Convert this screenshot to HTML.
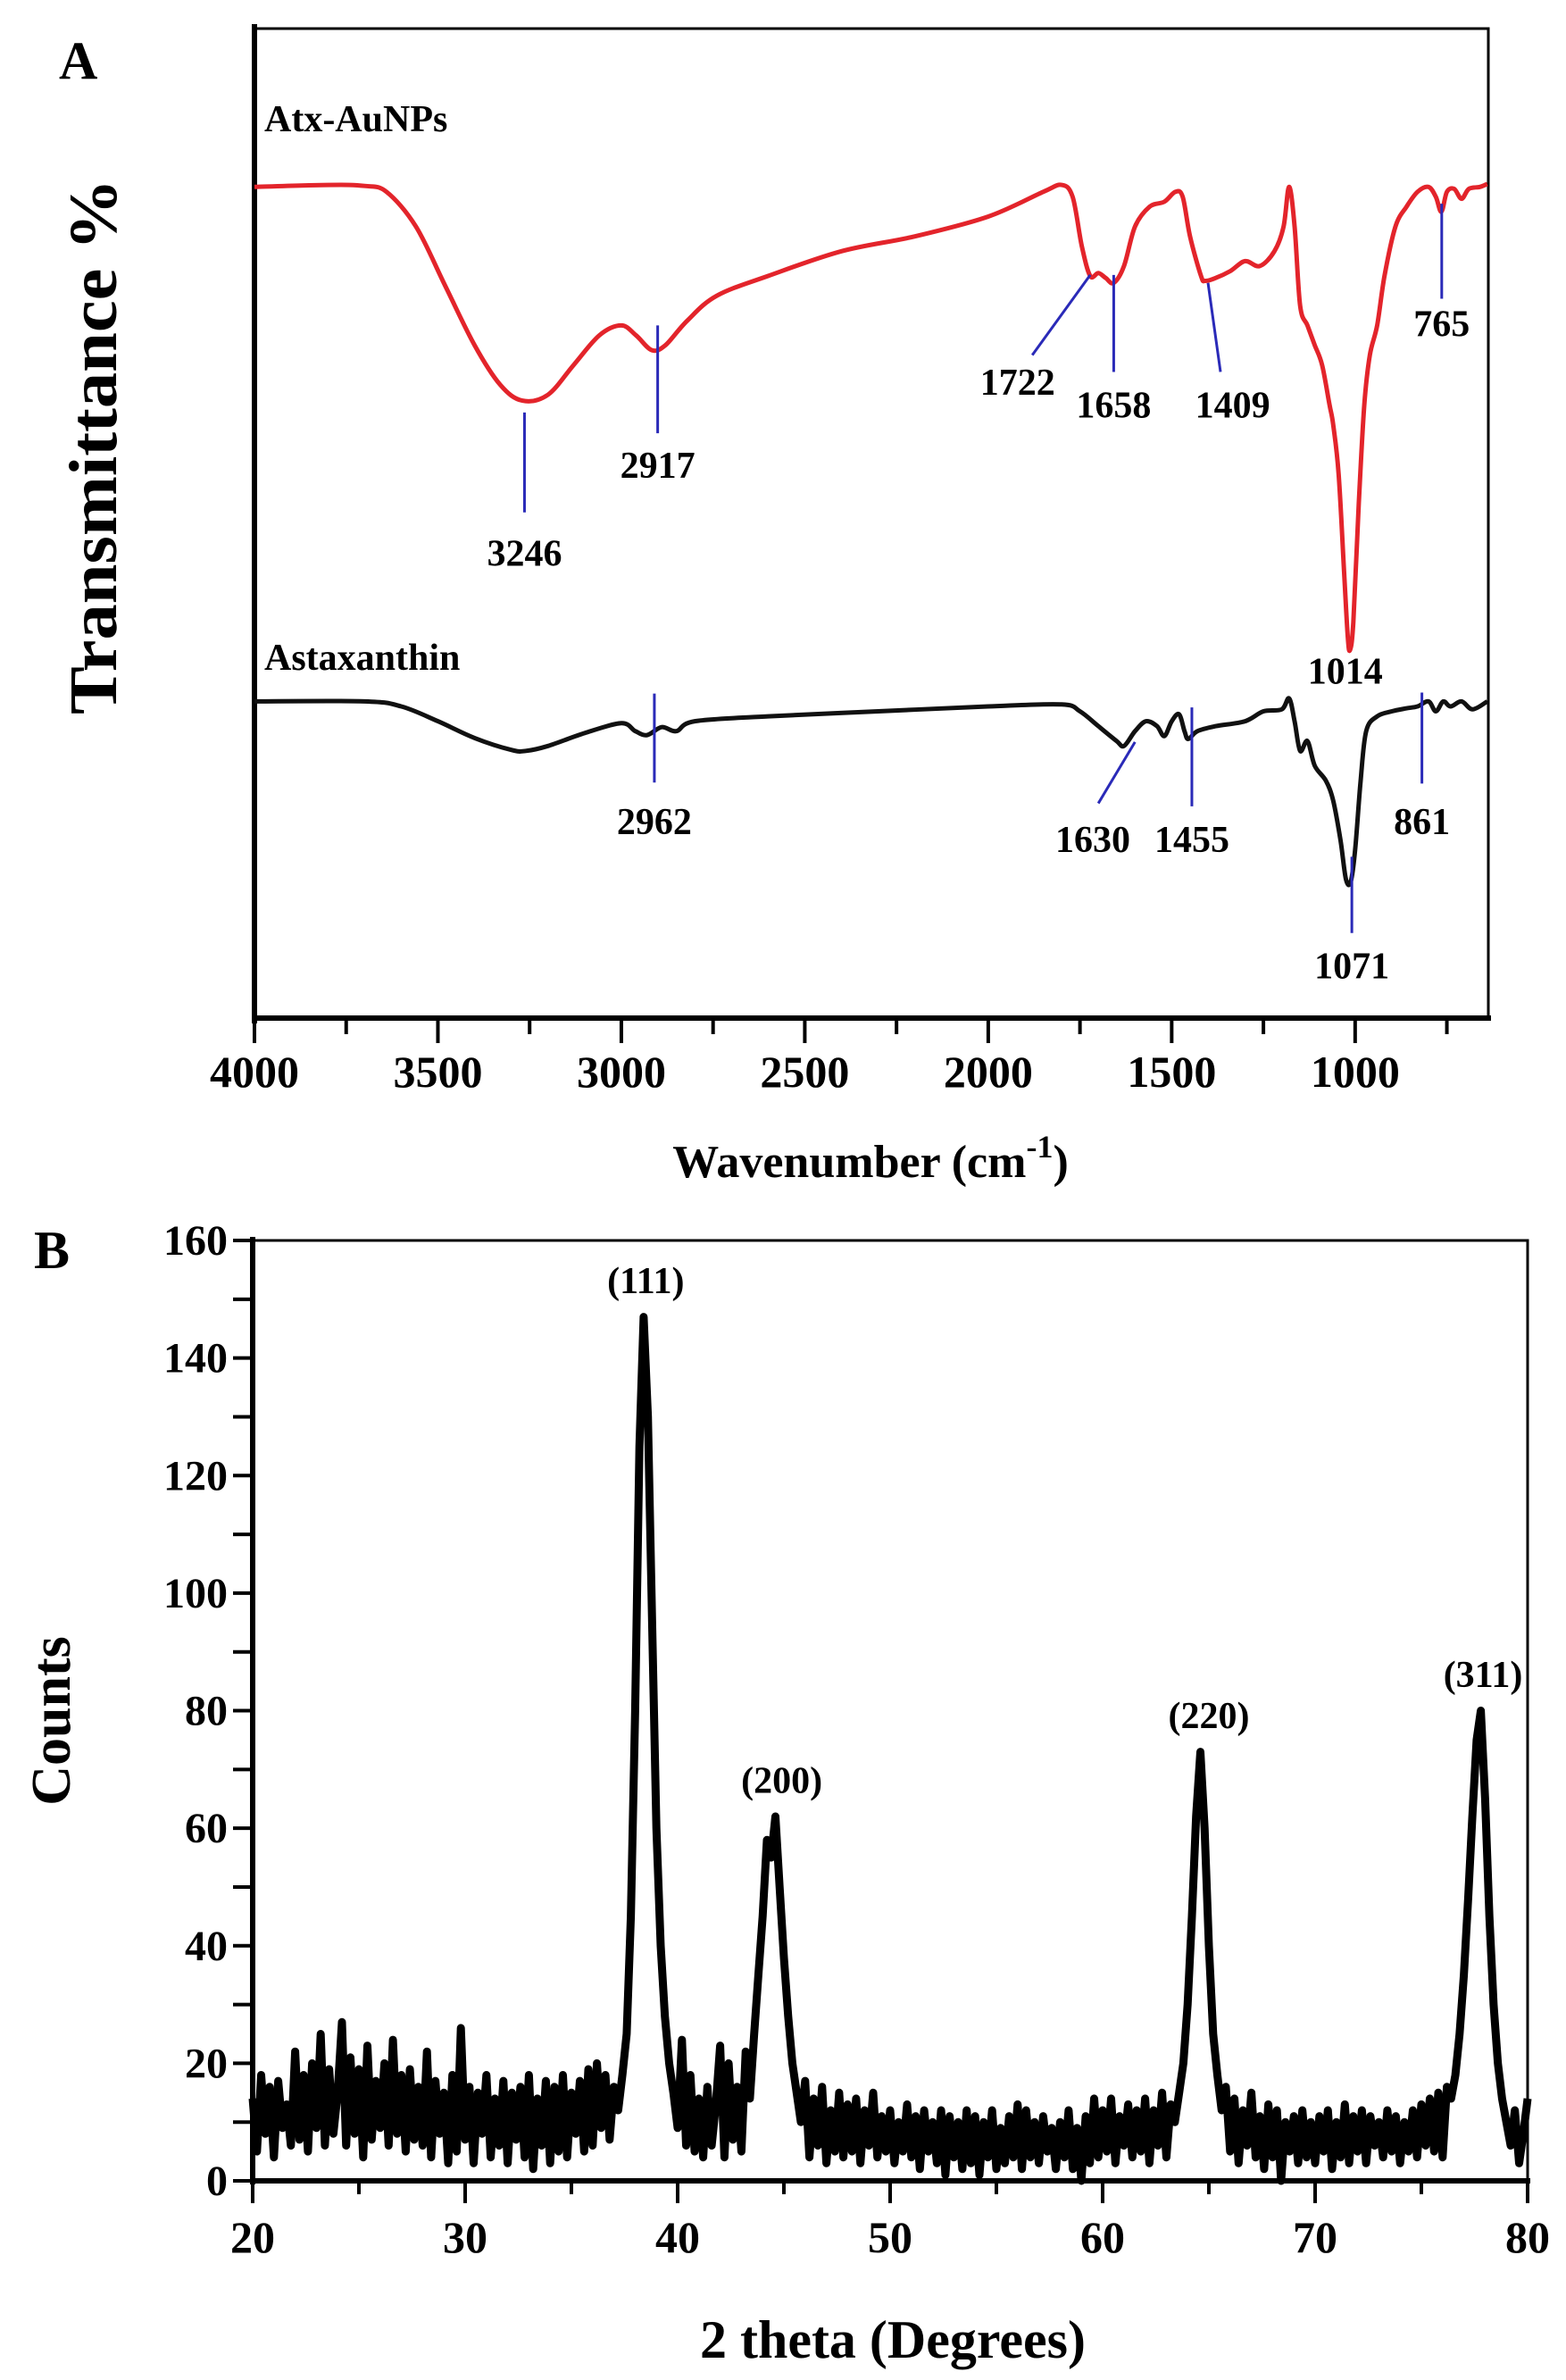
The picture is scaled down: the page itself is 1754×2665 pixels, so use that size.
<!DOCTYPE html>
<html><head><meta charset="utf-8"><style>
html,body{margin:0;padding:0;background:#fff;}
svg{display:block;font-family:"Liberation Serif",serif;font-weight:bold;}
</style></head><body>
<svg id="fig" width="1754" height="2665" viewBox="0 0 1754 2665" xmlns="http://www.w3.org/2000/svg">
<rect width="1754" height="2665" fill="#fff"/>
<g id="panelA"></g>
<g id="panelB"></g>
</svg>
<script>
// ---- Panel A data (FTIR) ----
const ftirXTicks = [4000,3500,3000,2500,2000,1500,1000];
const atxWn  = [4000,3800,3700,3640,3560,3480,3400,3330,3270,3200,3130,3060,3000,2960,2917,2880,2820,2740,2600,2400,2200,2000,1850,1800,1770,1745,1722,1700,1680,1658,1630,1600,1560,1520,1490,1470,1450,1420,1409,1380,1340,1300,1260,1220,1195,1180,1165,1150,1130,1110,1090,1070,1060,1045,1030,1020,1014,1005,990,975,960,940,920,890,860,830,800,780,765,750,730,710,690,660,640];
const atxT   = [84,84.2,84.1,83.5,80,74,68,64,62.4,63,66,69,70,69,67.5,68,70.5,73,75,77.5,79,81,83.5,84.2,83,78,75,75.3,74.8,74.3,76,80,82,82.5,83.5,83,79,75,74.5,74.8,75.5,76.5,76,77.5,80,84,80,72,70,68,66,62,60,55,45,38.5,37.2,40,52,62,67,70,75,80,82,83.5,84,83,81.5,83.5,83.8,82.8,83.8,84,84.3];
const astWn  = [4000,3700,3600,3500,3400,3300,3260,3200,3100,3000,2962,2930,2890,2850,2800,2600,2300,2000,1800,1750,1700,1650,1630,1600,1570,1540,1520,1500,1480,1465,1455,1430,1380,1300,1250,1200,1180,1165,1150,1130,1110,1080,1060,1040,1025,1012,1000,985,970,940,900,861,830,800,780,760,740,710,680,640];
const astT   = [32,32,31.5,30,28.3,27.1,27,27.5,28.8,29.8,29,28.6,29.4,29,30,30.5,31,31.5,31.7,31,29.5,28,27.5,29,30,29.5,28.5,30,30.7,29,28.2,29,29.5,30,31,31.2,32.3,30,27,28,25.5,24,22,18,14,13.8,17,24,29,30.5,31,31.3,31.5,32,31,32,31.5,32,31.2,32,32.2];
const annLabels = ["3246","2917","1722","1658","1409","765","1014","2962","1630","1455","1071","861"];
const annX1 = [3264,2901,1722,1658,1401,764,1014,2910,1600,1445,1009,818];
const annY1 = [61.2,70.0,75.1,75.1,74.3,82.3,null,32.8,27.9,31.4,16.3,32.9];
const annX2 = [3264,2901,1880,1658,1367,764,1014,2910,1700,1445,1009,818];
const annY2 = [51.1,59.1,67.0,65.3,65.3,72.7,null,23.8,21.7,21.4,8.6,23.7];
const annLX = [3264,2901,1920,1658,1334,764,1027,2910,1715,1445,1009,818];
const annLY = [45.7,54.6,63.0,60.7,60.7,68.9,33.8,18.6,16.8,16.8,4.0,18.6];

// ---- Panel B data (XRD) ----
const xrdStart = 20, xrdStep = 0.2;
const xrdCounts = [
14,5,18,8,16,4,17,9,13,6,
22,7,18,5,20,9,25,6,19,8,
15,27,6,21,8,19,4,23,7,17,
9,20,6,24,8,18,5,19,7,16,
6,22,4,17,8,15,3,18,5,26,
7,16,3,15,8,18,4,14,6,17,
3,15,7,16,4,18,2,14,6,17,
3,16,5,18,4,15,8,17,5,19,
6,20,9,18,7,16,12,18,25,45,
80,125,147,130,95,60,40,28,20,15,
9,24,6,18,5,14,4,16,6,13,
23,4,20,7,16,5,22,14,25,35,
45,58,55,62,50,38,28,20,15,10,
17,4,14,6,16,3,12,5,15,4,
13,5,14,3,12,6,15,4,11,5,
12,3,10,5,13,4,11,2,12,5,
10,3,12,1,11,4,10,2,12,3,
11,1,10,4,12,2,9,3,11,4,
13,2,12,4,10,3,11,5,9,2,
10,4,12,2,9,0,11,3,14,4,
12,5,14,3,11,6,13,4,12,5,
14,3,12,6,15,4,13,10,15,20,
30,45,62,73,60,40,25,18,12,16,
5,14,3,12,6,15,4,11,2,13,
4,12,0,10,5,11,3,12,4,10,
3,11,5,12,2,10,4,13,3,11,
5,12,3,11,6,10,4,12,5,11,
3,10,5,12,4,13,6,14,5,15,
4,16,14,18,25,35,48,62,75,80,
65,45,30,20,14,10,6,12,3,8,
14];
const xrdXTicks = [20,30,40,50,60,70,80];
const xrdYTicks = [0,20,40,60,80,100,120,140,160];
const peakLabels = ["(111)","(200)","(220)","(311)"];
const peakTheta  = [38.5,44.9,65.0,77.9];
const peakCount  = [151,66,77,84];

const NS="http://www.w3.org/2000/svg";
function mk(parent,tag,attrs,text){const e=document.createElementNS(NS,tag);for(const k in attrs)e.setAttribute(k,attrs[k]);if(text!==undefined)e.textContent=text;parent.appendChild(e);return e;}
function pathOf(xs,ys,fx,fy){return xs.map((x,i)=>(i?'L':'M')+fx(x).toFixed(1)+','+fy(ys[i]).toFixed(1)).join('');}
function smoothPath(xs,ys,fx,fy){
  const p=xs.map((x,i)=>[fx(x),fy(ys[i])]);
  let d='M'+p[0][0].toFixed(1)+','+p[0][1].toFixed(1);
  for(let i=0;i<p.length-1;i++){
    const p0=p[Math.max(0,i-1)],p1=p[i],p2=p[i+1],p3=p[Math.min(p.length-1,i+2)];
    const c1x=p1[0]+(p2[0]-p0[0])/6,c1y=p1[1]+(p2[1]-p0[1])/6;
    const c2x=p2[0]-(p3[0]-p1[0])/6,c2y=p2[1]-(p3[1]-p1[1])/6;
    d+='C'+c1x.toFixed(1)+','+c1y.toFixed(1)+' '+c2x.toFixed(1)+','+c2y.toFixed(1)+' '+p2[0].toFixed(1)+','+p2[1].toFixed(1);
  }
  return d;
}

// ---- Panel A ----
const A=document.getElementById('panelA');
const aL=285,aR=1667,aT=32,aB=1140;
const ax=w=>aL+(4000-w)/(4000-637)*(aR-aL);
const ay=t=>aB-t/100*(aB-aT);
let e;
e=mk(A,'rect',{x:aL,y:aT,width:aR-aL,height:aB-aT,fill:'none',stroke:'#000','stroke-width':3});


e=mk(A,'line',{x1:aL,y1:aT-5,x2:aL,y2:aB+6,stroke:'#000','stroke-width':6});


e=mk(A,'line',{x1:aL-3,y1:aB,x2:aR+3,y2:aB,stroke:'#000','stroke-width':6});


for(let w=4000;w>=700;w-=250){
  const major=(w%500===0);
  e=mk(A,'line',{x1:ax(w),y1:aB,x2:ax(w),y2:aB+(major?28:18),stroke:'#000','stroke-width':4});
  
  
}
ftirXTicks.forEach(w=>{
  e=mk(A,'text',{x:ax(w),y:1217,'text-anchor':'middle','font-size':50},String(w));
  
  
});
e=mk(A,'path',{d:smoothPath(atxWn,atxT,ax,ay),fill:'none',stroke:'#e3242b','stroke-width':5,'stroke-linejoin':'round'});


e=mk(A,'path',{d:smoothPath(astWn,astT,ax,ay),fill:'none',stroke:'#111','stroke-width':5,'stroke-linejoin':'round'});


annLabels.forEach((lab,i)=>{
  if(annY1[i]!==null){
    e=mk(A,'line',{x1:ax(annX1[i]),y1:ay(annY1[i]),x2:ax(annX2[i]),y2:ay(annY2[i]),stroke:'#2a2ab8','stroke-width':3});
    
    
  }
  e=mk(A,'text',{x:ax(annLX[i]),y:ay(annLY[i]),'text-anchor':'middle','font-size':42},lab);
  
  
});
e=mk(A,'text',{x:296,y:147,'font-size':42},'Atx-AuNPs');


e=mk(A,'text',{x:296,y:750,'font-size':42},'Astaxanthin');


e=mk(A,'text',{x:66,y:88,'font-size':60},'A');


e=mk(A,'text',{x:0,y:0,'font-size':76,'text-anchor':'middle',transform:'translate(130,500) rotate(-90)',textLength:600,lengthAdjust:'spacingAndGlyphs'},'Transmittance %');


e=mk(A,'text',{x:975,y:1318,'font-size':52,'text-anchor':'middle'},'Wavenumber (cm');


const tt=e;
tt.appendChild(mk(A,'tspan',{dy:-22,'font-size':36},'-1'));
tt.appendChild(mk(A,'tspan',{dy:22},')'));

// ---- Panel B ----
const B=document.getElementById('panelB');
const bL=283,bR=1711,bT=1389,bB=2442;
const bx=v=>bL+(v-20)/60*(bR-bL);
const by=v=>bB-v/160*(bB-bT);
e=mk(B,'rect',{x:bL,y:bT,width:bR-bL,height:bB-bT,fill:'none',stroke:'#000','stroke-width':3});


const xs=xrdCounts.map((c,i)=>xrdStart+i*xrdStep);
e=mk(B,'path',{d:pathOf(xs,xrdCounts,bx,by),fill:'none',stroke:'#000','stroke-width':9,'stroke-linejoin':'round'});


e=mk(B,'line',{x1:bL,y1:bT-4,x2:bL,y2:bB+4,stroke:'#000','stroke-width':6});


e=mk(B,'line',{x1:bL-3,y1:bB,x2:bR+3,y2:bB,stroke:'#000','stroke-width':6});


for(let v=0;v<=160;v+=10){
  e=mk(B,'line',{x1:bL,y1:by(v),x2:bL-22,y2:by(v),stroke:'#000','stroke-width':4});
  
  
}
for(let v=20;v<=80;v+=5){
  const major=(v%10===0);
  e=mk(B,'line',{x1:bx(v),y1:bB,x2:bx(v),y2:bB+(major?25:15),stroke:'#000','stroke-width':4});
  
  
}
xrdYTicks.forEach(v=>{
  e=mk(B,'text',{x:bL-28,y:by(v)+16,'text-anchor':'end','font-size':48},String(v));
  
  
});
xrdXTicks.forEach(v=>{
  e=mk(B,'text',{x:bx(v),y:2522,'text-anchor':'middle','font-size':50},String(v));
  
  
});
peakLabels.forEach((lab,i)=>{
  e=mk(B,'text',{x:bx(peakTheta[i]),y:by(peakCount[i]),'text-anchor':'middle','font-size':42},lab);
  
  
});
e=mk(B,'text',{x:38,y:1420,'font-size':60},'B');


e=mk(B,'text',{x:0,y:0,'font-size':62,'text-anchor':'middle',transform:'translate(78,1927) rotate(-90)'},'Counts');


e=mk(B,'text',{x:1000,y:2640,'font-size':60,'text-anchor':'middle'},'2 theta (Degrees)');


</script>
</body></html>
